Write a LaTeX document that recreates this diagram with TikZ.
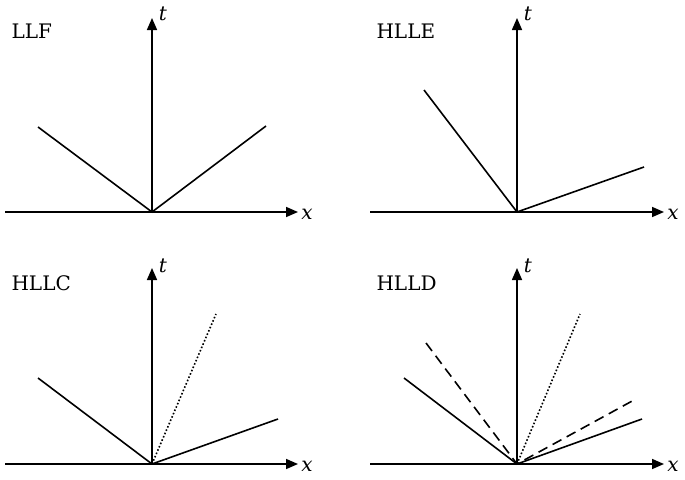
\documentclass[tikz,border=0pt]{standalone}
\usepackage{fontspec}
\setmainfont{DejaVu Serif}
\usetikzlibrary{arrows.meta}
\begin{document}
\begin{tikzpicture}[x=1pt,y=-1pt,
  ax/.style={line width=1.6pt,-{Triangle[length=12pt,width=10pt]}},
  wave/.style={line width=1.6pt},
  lab/.style={font=\fontsize{20}{24}\selectfont,anchor=west},
  axl/.style={font=\fontsize{20}{24}\selectfont\itshape}]
\useasboundingbox (0,0) rectangle (685,479);
% panel 1
\coordinate (o1) at (152,212);
\coordinate (xa1) at (5,212); \coordinate (xb1) at (298,212);
\coordinate (t1) at (152,18);
\draw[ax] (xa1) -- (xb1); \draw[ax] (o1) -- (t1);
\node[axl] (x1) at (307,214) {x}; \node[axl] (tl1) at (163,14) {t};
\node[lab] (n1) at (8,31) {LLF};
\coordinate (a1) at (38,127); \coordinate (b1) at (266,126);
\draw[wave] (a1) -- (o1) -- (b1);
% panel 2
\coordinate (o2) at (517,212);
\coordinate (xa2) at (370,212); \coordinate (xb2) at (664,212);
\coordinate (t2) at (517,18);
\draw[ax] (xa2) -- (xb2); \draw[ax] (o2) -- (t2);
\node[axl] (x2) at (673,214) {x}; \node[axl] (tl2) at (528,14) {t};
\node[lab] (n2) at (373,31) {HLLE};
\coordinate (a2) at (424,90); \coordinate (b2) at (644,167);
\draw[wave] (a2) -- (o2) -- (b2);
% panel 3
\coordinate (o3) at (152,464);
\coordinate (xa3) at (5,464); \coordinate (xb3) at (298,464);
\coordinate (t3) at (152,268);
\draw[ax] (xa3) -- (xb3); \draw[ax] (o3) -- (t3);
\node[axl] (x3) at (307,466) {x}; \node[axl] (tl3) at (163,266) {t};
\node[lab] (n3) at (8,283) {HLLC};
\coordinate (a3) at (38,378); \coordinate (b3) at (278,419); \coordinate (c3) at (216,314);
\draw[wave] (a3) -- (o3) -- (b3);
\draw[line width=1.6pt,dotted] (o3) -- (c3);
% panel 4
\coordinate (o4) at (517,464);
\coordinate (xa4) at (370,464); \coordinate (xb4) at (664,464);
\coordinate (t4) at (517,268);
\draw[ax] (xa4) -- (xb4); \draw[ax] (o4) -- (t4);
\node[axl] (x4) at (673,466) {x}; \node[axl] (tl4) at (528,266) {t};
\node[lab] (n4) at (373,283) {HLLD};
\coordinate (a4) at (404,378); \coordinate (b4) at (642,419);
\coordinate (d4) at (426,343); \coordinate (e4) at (634,400); \coordinate (c4) at (580,314);
\draw[wave] (a4) -- (o4) -- (b4);
\draw[wave,dash pattern=on 10pt off 6pt] (d4) -- (o4) -- (e4);
\draw[line width=1.6pt,dotted] (o4) -- (c4);
\end{tikzpicture}
\end{document}
